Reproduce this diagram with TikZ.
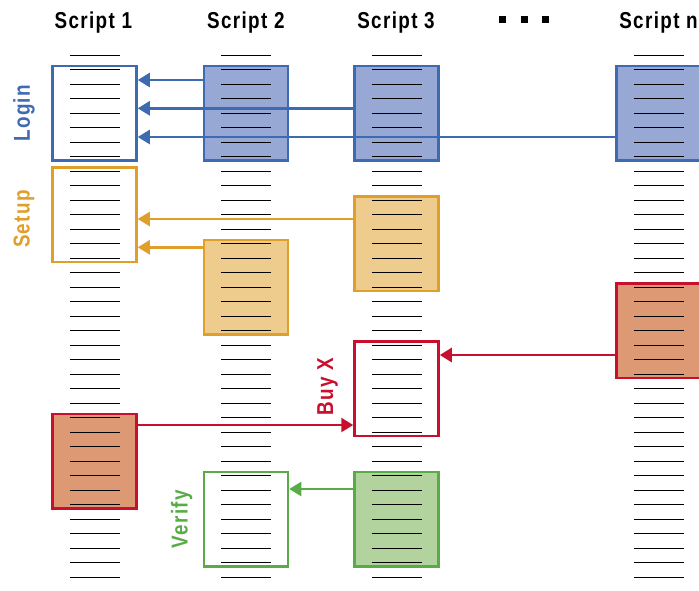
\documentclass[tikz,border=0pt]{standalone}
\usepackage{fontspec}
\setmainfont{Liberation Sans}[FakeStretch=0.82,LetterSpace=6]
\usetikzlibrary{arrows.meta}
\definecolor{loginline}{RGB}{62,106,178}
\definecolor{loginfill}{RGB}{152,168,212}
\definecolor{setupline}{RGB}{224,158,42}
\definecolor{setupfill}{RGB}{238,204,142}
\definecolor{buyline}{RGB}{200,16,46}
\definecolor{buyfill}{RGB}{221,152,116}
\definecolor{verifyline}{RGB}{88,172,70}
\definecolor{verifyfill}{RGB}{178,210,158}
\begin{document}
\begin{tikzpicture}[x=1pt,y=-1pt]
\tikzstyle{box} = [draw, line width=2.5pt, inner sep=0, minimum width=84pt,
                   minimum height=94.5pt]
\tikzstyle{head} = [font=\fontsize{23}{27}\selectfont\bfseries, anchor=base]
\tikzstyle{tag} = [font=\fontsize{23}{27}\selectfont\bfseries, rotate=90]
\tikzstyle{arr} = [-{Triangle[length=12pt,width=14pt]}, line width=2.5pt]
\useasboundingbox (0,0) rectangle (699,590);
\node [head] (h1) at (93.3,28.3) {Script 1};
\node [head] (h2) at (245.8,28.3) {Script 2};
\node [head] (h3) at (396,28.3) {Script 3};
\node [head] (hn) at (658.5,28.3) {Script n};
\fill (499,16) rectangle (505.7,22.7);
\fill (521,16) rectangle (527.7,22.7);
\fill (542,16) rectangle (548.7,22.7);
\node [box, draw=loginline] (l1) at (94.5,113.3) {};
\node [box, draw=loginline, fill=loginfill] (l2) at (246,113.3) {};
\node [box, draw=loginline, fill=loginfill] (l3) at (396.5,113.3) {};
\node [box, draw=loginline, fill=loginfill] (ln) at (658.5,113.3) {};
\node [box, draw=setupline] (s1) at (94.5,214.8) {};
\node [box, draw=setupline, fill=setupfill] (s2) at (246,287.3) {};
\node [box, draw=setupline, fill=setupfill] (s3) at (396.5,243.8) {};
\node [box, draw=buyline, fill=buyfill] (b1) at (94.5,461.3) {};
\node [box, draw=buyline] (b3) at (396.5,388.8) {};
\node [box, draw=buyline, fill=buyfill] (bn) at (658.5,330.8) {};
\node [box, draw=verifyline] (v2) at (246,519.3) {};
\node [box, draw=verifyline, fill=verifyfill] (v3) at (396.5,519.3) {};
\foreach \x in {94.5,246,396.5,658.5}
  \foreach \i in {0,...,36}
    \draw [line width=1pt] (\x-25,55+14.5*\i) -- (\x+25,55+14.5*\i);
\draw [arr, loginline] (l2.west |- 0,80) -- (l1.east |- 0,80);
\draw [arr, loginline] (l3.west |- 0,108.3) -- (l1.east |- 0,108.3);
\draw [arr, loginline] (ln.west |- 0,137) -- (l1.east |- 0,137);
\draw [arr, setupline] (s3.west |- 0,219) -- (s1.east |- 0,219);
\draw [arr, setupline] (s2.west |- 0,247.3) -- (s1.east |- 0,247.3);
\draw [arr, buyline] (bn.west |- 0,355) -- (b3.east |- 0,355);
\draw [arr, buyline] (b1.east |- 0,425) -- (b3.west |- 0,425);
\draw [arr, verifyline] (v3.west |- 0,489) -- (v2.east |- 0,489);
\node [tag, loginline] (t1) at (24,113.3) {Login};
\node [tag, setupline] (t2) at (24,219) {Setup};
\node [tag, buyline] (t3) at (327.5,387) {Buy X};
\node [tag, verifyline] (t4) at (181.7,519) {Verify};
\end{tikzpicture}
\end{document}
